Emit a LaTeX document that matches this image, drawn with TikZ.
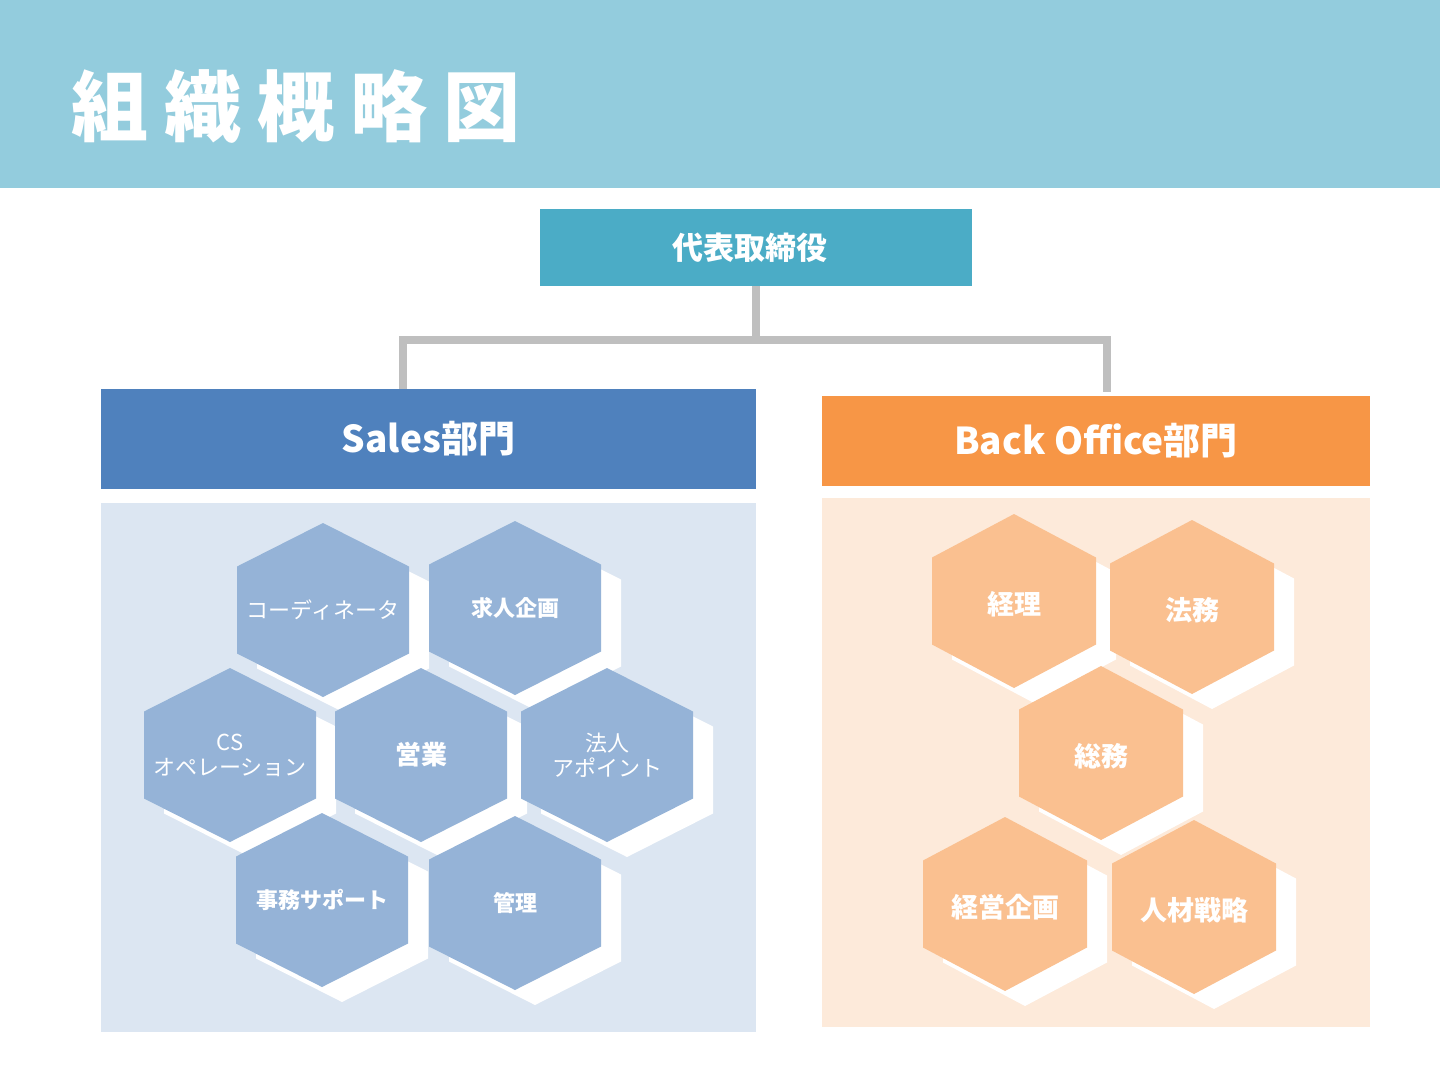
\documentclass[tikz,border=0pt]{standalone}
\usepackage{fontspec}
\setmainfont{Noto Sans CJK JP}
\usetikzlibrary{calc}
\definecolor{bandblue}{RGB}{147,204,221}
\definecolor{ceoblue}{RGB}{75,172,198}
\definecolor{salesblue}{RGB}{79,129,189}
\definecolor{salesbg}{RGB}{220,230,242}
\definecolor{hexblue}{RGB}{149,179,215}
\definecolor{backorange}{RGB}{247,150,70}
\definecolor{backbg}{RGB}{253,234,218}
\definecolor{hexorange}{RGB}{250,192,144}
\definecolor{connGray}{RGB}{191,191,191}

\begin{document}
\begin{tikzpicture}[x=1pt, y=-1pt,
  headbox/.style={inner sep=0, text=white, font=\bfseries\fontsize{37}{40}\selectfont},
  hexlabel/.style={inner sep=0, text=white, align=center, font=\fontsize{22}{25}\selectfont},
  conn/.style={connGray, line width=8pt}]
\useasboundingbox (0,0) rectangle (1440,1080);
\fill[bandblue] (0,0) rectangle (1440,188);
\node[anchor=west, inner sep=0, text=white, font=\bfseries\fontsize{77}{80}\selectfont] (title) at (71,107) {組\hspace{16pt}織\hspace{16pt}概\hspace{16pt}略\hspace{16pt}図};

\node[fill=ceoblue, minimum width=432, minimum height=77, inner sep=0, text=white, font=\bfseries\fontsize{31}{34}\selectfont] (ceo) at (756,247.5) {\hspace*{-12pt}代表取締役};
\node[headbox, fill=salesblue, minimum width=655, minimum height=100] (sales) at (428.5,439) {Sales部門};
\node[headbox, fill=backorange, minimum width=548, minimum height=90] (back) at (1096,441) {Back Office部門};

% bodies
\fill[salesbg] (101,503) rectangle (756,1032);
\fill[backbg] (822,498) rectangle (1370,1027);

% lines
\coordinate (hub) at (756,340);
\coordinate (salesin) at (403,389);
\coordinate (backin) at (1107,392);
\draw[conn] (ceo.south) -- (hub);
\draw[conn] (salesin) |- (hub) -| (backin);

% sales hexagons
\foreach \cx/\cy/\nm/\wt/\txt in {323/610/coord/\mdseries/{コーディネータ}, 515/608/kyujin/\bfseries/{求人企画},
  230/755/cs/\mdseries/{CS\\オペレーション}, 421/755/eigyo/\bfseries\fontsize{26}{30}\selectfont/{営業},
  607/755/hojin/\mdseries/{法人\\アポイント}, 322/900/jimu/\bfseries/{事務サポート}, 515/903/kanri/\bfseries/{管理}} {
 \fill[white] (\cx+20,\cy+15) +(0,-87) -- +(86,-43.5) -- +(86,43.5) -- +(0,87) -- +(-86,43.5) -- +(-86,-43.5) -- cycle;
 \fill[hexblue] (\cx,\cy) +(0,-87) -- +(86,-43.5) -- +(86,43.5) -- +(0,87) -- +(-86,43.5) -- +(-86,-43.5) -- cycle;
 \node[hexlabel] (\nm) at (\cx,\cy) {\wt\txt};
}

% back office hexagons
\foreach \cx/\cy/\nm/\txt in {1014/601/keiri/{経理}, 1192/607/homu/{法務}, 1101/753/somu/{総務},
  1005/904/keiei/{経営企画}, 1194/907/jinzai/{人材戦略}} {
 \fill[white] (\cx+20,\cy+15) +(0,-87) -- +(82,-43.5) -- +(82,43.5) -- +(0,87) -- +(-82,43.5) -- +(-82,-43.5) -- cycle;
 \fill[hexorange] (\cx,\cy) +(0,-87) -- +(82,-43.5) -- +(82,43.5) -- +(0,87) -- +(-82,43.5) -- +(-82,-43.5) -- cycle;
 \node[hexlabel, font=\bfseries\fontsize{27}{30}\selectfont] (\nm) at (\cx,\cy+3) {\txt};
}
\end{tikzpicture}
\end{document}
